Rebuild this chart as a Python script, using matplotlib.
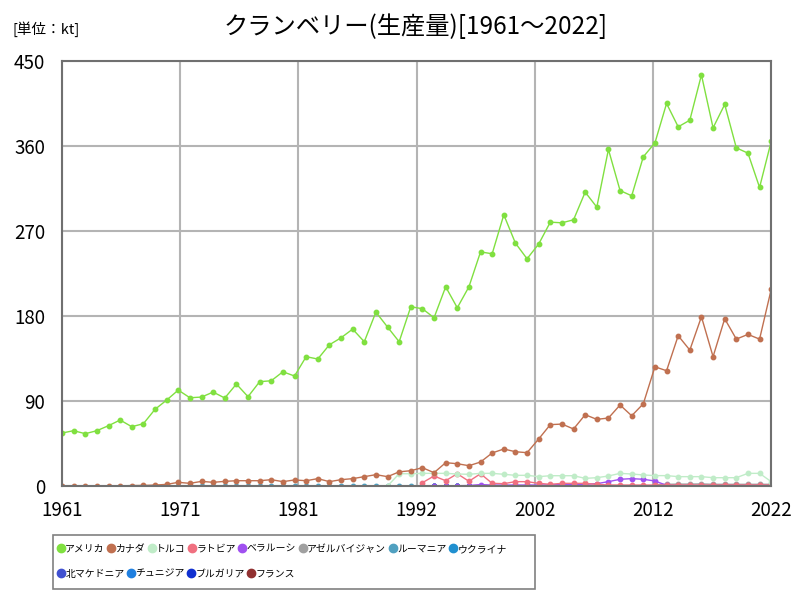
import numpy as np
import matplotlib.pyplot as plt
from matplotlib.patches import Rectangle

plt.rcParams['font.family'] = ['Noto Sans CJK JP', 'DejaVu Sans']

years = np.arange(1961, 2023)
nan = np.nan

# 単位: kt
usa = [56.1, 58.6, 55.4, 58.6, 63.9, 69.9, 62.8, 66.0, 81.2, 91.0,
       101.6, 93.5, 94.2, 99.5, 93.2, 108.0, 94.6, 110.5, 111.5, 121.0,
       116.5, 137.0, 134.5, 149.6, 157.0, 166.2, 152.8, 184.2, 168.4, 152.8,
       189.9, 187.8, 178.2, 211.0, 188.8, 211.0, 248.0, 246.0, 287.3, 257.3,
       240.7, 256.3, 279.5, 278.8, 282.0, 311.3, 295.4, 356.5, 313.0, 307.4,
       348.7, 363.5, 405.2, 380.5, 387.5, 435.5, 379.4, 404.2, 358.2, 352.6,
       316.3, 365.0]
canada = [0, 0, 0, 0, 0, 0, 0.5, 0.6, 1.0, 1.7,
          3.9, 2.8, 4.9, 3.9, 4.9, 5.6, 5.6, 5.6, 6.7, 4.6,
          6.4, 5.6, 7.8, 4.6, 6.7, 7.8, 9.9, 12.0, 9.9, 15.0,
          16.2, 19.4, 14.1, 24.7, 23.6, 21.5, 25.4, 35.0, 39.2, 36.3,
          35.3, 49.8, 65.0, 65.6, 60.4, 75.5, 70.6, 72.0, 85.8, 74.4,
          87.1, 126.3, 122.1, 159.2, 144.0, 179.3, 137.0, 177.2, 155.6, 160.6,
          155.6, 208.3]
turkey = [nan] * 28 + [0, 13.0, 13.0, 13.4, 13.4, 13.4, 12.7, 12.4, 13.4, 13.4,
                       12.4, 11.3, 11.3, 9.9, 10.9, 10.9, 10.9, 8.1, 8.8, 10.6,
                       13.4, 12.7, 11.7, 11.0, 11.0, 9.9, 9.9, 9.9, 8.8, 8.8,
                       8.8, 13.4, 13.4, 4.6]
latvia = [nan] * 31 + [3.5, 10.6, 5.6, 13.0, 5.0, 13.0, 2.8, 2.5, 4.6, 4.6,
                       2.8, 1.8, 2.8, 2.8, 2.8, 1.7, 1.1, 1.0, 1.0, 1.0,
                       1.0, 1.0, 1.0, 1.0, 1.0, 1.0, 1.0, 1.0, 1.0, 1.0,
                       1.0]
belarus = [nan] * 31 + [0.3, 0.3, 0.3, 0.3, 0.5, 1.5, 1.0, 1.0, 1.0, 1.0,
                        1.0, 1.2, 1.5, 1.5, 1.8, 2.5, 4.6, 7.1, 7.8, 7.1,
                        5.3, 0.7, 0.5, 0.5, 0.5, 0.5, 0.5, 0.5, 0.5, 0.5,
                        0.5]
azerbaijan = [nan] * 51 + [1.5, 1.8, 2.0, 2.0, 2.2, 1.8, 1.8, 1.8, 1.8, 1.8, 1.8]
romania = [nan] * 10 + [0.2] * 52
ukraine = [nan] * 31 + [0.2] * 31
n_macedonia = [nan] * 31 + [0.1] * 31
tunisia = [nan] * 51 + [0.05] * 11
bulgaria = [nan] * 31 + [0.05] * 31
france = [nan] * 31 + [0.02] * 31

names = ['アメリカ', 'カナダ', 'トルコ', 'ラトビア', 'ベラルーシ', 'アゼルバイジャン',
         'ルーマニア', 'ウクライナ', '北マケドニア', 'チュニジア', 'ブルガリア', 'フランス']
series = [usa, canada, turkey, latvia, belarus, azerbaijan,
          romania, ukraine, n_macedonia, tunisia, bulgaria, france]
colors = ['#80e040', '#c07050', '#c0ecc8', '#f07080', '#a050f0', '#a0a0a0',
          '#50a0c0', '#2090d0', '#4050d0', '#2080e0', '#1030d0', '#903030']

fig = plt.figure(figsize=(8, 6), dpi=100)
ax = fig.add_axes([0.0775, 0.19, 0.8865, 0.708])

handles = []
for name, vals, c in reversed(list(zip(names, series, colors))):
    h, = ax.plot(years, vals, color=c, lw=1, marker='o', ms=3.2, label=name)
    handles.append(h)
handles = handles[::-1]

ax.set_xlim(1961, 2022)
ax.set_ylim(0, 450)
xt = np.linspace(1961, 2022, 7)
ax.set_xticks(xt)
ax.set_xticklabels([str(int(np.floor(v + 0.5))) for v in xt])
ax.set_yticks([0, 90, 180, 270, 360, 450])
ax.grid(True, color='#b4b4b4', lw=1.5)
ax.set_axisbelow(True)
for s in ax.spines.values():
    s.set_color('#707070')
    s.set_linewidth(1.5)
ax.tick_params(length=0, labelsize=13.5)
ax.tick_params(axis='x', pad=10)
ax.tick_params(axis='y', pad=12)

fig.text(0.52, 0.955, 'クランベリー(生産量)[1961～2022]', ha='center', va='center', fontsize=17.5)
fig.text(0.015, 0.952, '[単位：kt]', ha='left', va='center', fontsize=10.5)

# legend: two rows, framed together
kw = dict(loc='upper left', bbox_transform=fig.transFigure, frameon=False, fontsize=7.1,
          handlelength=0.5, handletextpad=0.2, columnspacing=0.4, borderaxespad=0)
leg1 = fig.legend(handles[:8], names[:8], bbox_to_anchor=(0.068, 0.1), ncol=8, **kw)
leg2 = fig.legend(handles[8:], names[8:], bbox_to_anchor=(0.068, 0.059), ncol=4, **kw)
for lg in (leg1, leg2):
    for h in lg.legend_handles:
        h.set_linestyle('none')
        h.set_markersize(6)
fig.add_artist(Rectangle((0.066, 0.018), 0.603, 0.09, transform=fig.transFigure,
                         fill=False, edgecolor='#808080', lw=1.2))

fig.savefig('out.png', dpi=100)
